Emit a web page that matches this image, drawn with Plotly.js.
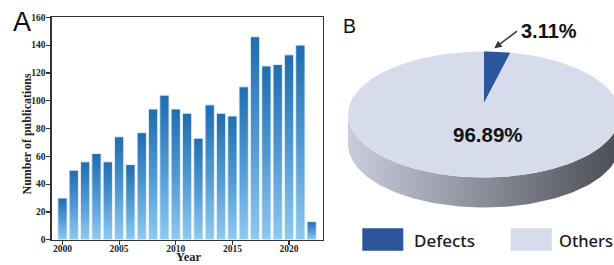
<!DOCTYPE html>
<html>
<head>
<meta charset="utf-8">
<script src="https://cdn.plot.ly/plotly-3.0.1.min.js"></script>
<style>html,body{margin:0;padding:0;background:#fff;}#chart{width:614px;height:265px;}</style>
</head>
<body>
<div id="chart"></div>
<script>
// ---- data ----
const years = [2000, 2001, 2002, 2003, 2004, 2005, 2006, 2007, 2008, 2009, 2010, 2011,
               2012, 2013, 2014, 2015, 2016, 2017, 2018, 2019, 2020, 2021, 2022];
const publications = [30, 50, 56, 62, 56, 74, 54, 77, 94, 104, 94, 91,
                      73, 97, 91, 89, 110, 146, 125, 126, 133, 140, 13];
const yTicks = [0, 20, 40, 60, 80, 100, 120, 140, 160];
const xTicks = [2000, 2005, 2010, 2015, 2020];
const xTitle = 'Year';
const yTitle = 'Number of publications';
const pieLabels = ['Defects', 'Others'];
const pieValues = [3.11, 96.89];
const pieColors = ['#2b569b', '#d6dcec'];

// ---- pie geometry (pixel units on hidden axes x2/y2) ----
const CX = 484, CY = 114.5, RX = 136, RY = 63, APEX_Y = 103, THICK = 30;
function ellipsePt(t, dy) { return [CX + RX * Math.sin(t), CY - RY * Math.cos(t) + (dy || 0)]; }
function arc(t0, t1, n, dy) {
  const xs = [], ys = [];
  for (let i = 0; i <= n; i++) {
    const t = t0 + (t1 - t0) * i / n;
    const p = ellipsePt(t, dy);
    xs.push(p[0]); ys.push(p[1]);
  }
  return [xs, ys];
}
const total = pieValues.reduce((a, b) => a + b, 0);
const traces = [];

// bar chart
traces.push({
  type: 'bar', x: years, y: publications, width: 0.82,
  marker: { color: '#4a95d2', line: { color: 'rgba(235,245,253,0.9)', width: 1 } },
  hoverinfo: 'skip', showlegend: false, xaxis: 'x', yaxis: 'y'
});

// pie side (cylinder wall)
{
  const top = arc(Math.PI / 2, 3 * Math.PI / 2, 120, 0);
  const bot = arc(3 * Math.PI / 2, Math.PI / 2, 120, THICK);
  traces.push({
    type: 'scatter', mode: 'lines', x: top[0].concat(bot[0]), y: top[1].concat(bot[1]),
    fill: 'toself', line: { width: 0, color: 'rgba(0,0,0,0)' },
    fillgradient: { type: 'horizontal', colorscale: [[0, '#c8cddb'], [0.45, '#90949f'], [1, '#4a4d55']] },
    hoverinfo: 'skip', showlegend: false, xaxis: 'x2', yaxis: 'y2'
  });
}
// pie slices on top surface
{
  let start = 0;
  pieValues.forEach((v, i) => {
    const t0 = 2 * Math.PI * start / total;
    const t1 = 2 * Math.PI * (start + v) / total;
    const a = arc(t0, t1, Math.max(8, Math.round(200 * v / total)), 0);
    traces.push({
      type: 'scatter', mode: 'lines', name: pieLabels[i],
      x: [CX].concat(a[0], [CX]), y: [APEX_Y].concat(a[1], [APEX_Y]),
      fill: 'toself', fillcolor: pieColors[i], line: { width: 0, color: pieColors[i] },
      hoverinfo: 'skip', showlegend: false, xaxis: 'x2', yaxis: 'y2'
    });
    start += v;
  });
}

const serif = 'Liberation Serif, Times New Roman, serif';
const axisCommon = {
  showline: true, linecolor: '#333', linewidth: 1.3, mirror: true,
  ticks: 'outside', ticklen: 4, tickwidth: 1.2, tickcolor: '#333',
  showgrid: false, zeroline: false,
  tickfont: { family: serif, size: 9.5, color: '#222', weight: 'bold' }
};

const layout = {
  width: 614, height: 265,
  margin: { l: 0, r: 0, t: 0, b: 0 },
  paper_bgcolor: '#fff', plot_bgcolor: 'rgba(0,0,0,0)',
  showlegend: false, bargap: 0,
  xaxis: Object.assign({}, axisCommon, {
    domain: [51.7 / 614, 323 / 614], range: [1999.05, 2023],
    tickmode: 'array', tickvals: xTicks, ticktext: xTicks.map(String),
    ticklabelstandoff: -4
  }),
  yaxis: Object.assign({}, axisCommon, {
    domain: [(265 - 239.7) / 265, (265 - 17.3) / 265], range: [0, 160],
    tickmode: 'array', tickvals: yTicks, ticktext: yTicks.map(String),
    ticklabelstandoff: -1
  }),
  xaxis2: { domain: [0, 1], range: [0, 614], visible: false, fixedrange: true },
  yaxis2: { domain: [0, 1], range: [265, 0], visible: false, fixedrange: true },
  shapes: [
    { type: 'rect', xref: 'x2', yref: 'y2', x0: 362.3, x1: 403.3, y0: 228.3, y1: 250.7,
      fillcolor: pieColors[0], line: { width: 0 } },
    { type: 'rect', xref: 'x2', yref: 'y2', x0: 510.7, x1: 551.7, y0: 228.3, y1: 250.7,
      fillcolor: pieColors[1], line: { width: 0 } }
  ],
  annotations: [
    { xref: 'x2', yref: 'y2', x: 188.5, y: 265, yanchor: 'bottom', borderpad: 0, text: xTitle, showarrow: false,
      font: { family: serif, size: 12.5, color: '#222', weight: 'bold' } },
    { xref: 'x2', yref: 'y2', x: 26.5, y: 134, text: yTitle, showarrow: false, textangle: -90,
      font: { family: serif, size: 12, color: '#222', weight: 'bold' } },
    { xref: 'x2', yref: 'y2', x: 21.7, y: 22, text: 'A', showarrow: false,
      font: { family: 'Liberation Sans, Arial, sans-serif', size: 27, color: '#111' } },
    { xref: 'x2', yref: 'y2', x: 349, y: 25.7, text: 'B', showarrow: false,
      font: { family: 'Liberation Sans, Arial, sans-serif', size: 19.5, color: '#111' } },
    { xref: 'x2', yref: 'y2', x: 548.7, y: 30.5, text: pieValues[0].toFixed(2) + '%', showarrow: false,
      font: { family: 'Liberation Sans, Arial, sans-serif', size: 20, color: '#111', weight: 'bold' } },
    { xref: 'x2', yref: 'y2', axref: 'x2', ayref: 'y2', x: 494.3, y: 48.3, ax: 518.5, ay: 30,
      text: '', showarrow: true, arrowhead: 2, arrowsize: 1, arrowwidth: 1.5, arrowcolor: '#3a3a3a' },
    { xref: 'x2', yref: 'y2', x: 487.5, y: 134, text: pieValues[1].toFixed(2) + '%', showarrow: false,
      font: { family: 'Liberation Sans, Arial, sans-serif', size: 20.5, color: '#111', weight: 'bold' } },
    { xref: 'x2', yref: 'y2', x: 411.5, y: 240, xanchor: 'left', text: pieLabels[0], showarrow: false,
      font: { family: 'Noto Sans, sans-serif', size: 17, color: '#1a1a1a', weight: 500 } },
    { xref: 'x2', yref: 'y2', x: 558, y: 240, xanchor: 'left', text: pieLabels[1], showarrow: false,
      borderpad: 0, font: { family: 'Noto Sans, sans-serif', size: 16.5, color: '#1a1a1a', weight: 500 } }
  ]
};

Plotly.newPlot('chart', traces, layout, { staticPlot: true, displayModeBar: false }).then(function (gd) {
  const svgNS = 'http://www.w3.org/2000/svg';
  const svg = gd.querySelector('svg.main-svg');
  let defs = svg.querySelector('defs');
  if (!defs) { defs = document.createElementNS(svgNS, 'defs'); svg.insertBefore(defs, svg.firstChild); }
  const grad = document.createElementNS(svgNS, 'linearGradient');
  grad.setAttribute('id', 'barGrad');
  grad.setAttribute('x1', '0'); grad.setAttribute('y1', '0');
  grad.setAttribute('x2', '0'); grad.setAttribute('y2', '1');
  [['0', '#1f6db0'], ['0.5', '#4f98d4'], ['1', '#8ecaf0']].forEach(function (s) {
    const st = document.createElementNS(svgNS, 'stop');
    st.setAttribute('offset', s[0]); st.setAttribute('stop-color', s[1]);
    grad.appendChild(st);
  });
  defs.appendChild(grad);
  gd.querySelectorAll('.barlayer .point path').forEach(function (p) {
    p.style.fill = 'url(#barGrad)';
  });
});
</script>
</body>
</html>
